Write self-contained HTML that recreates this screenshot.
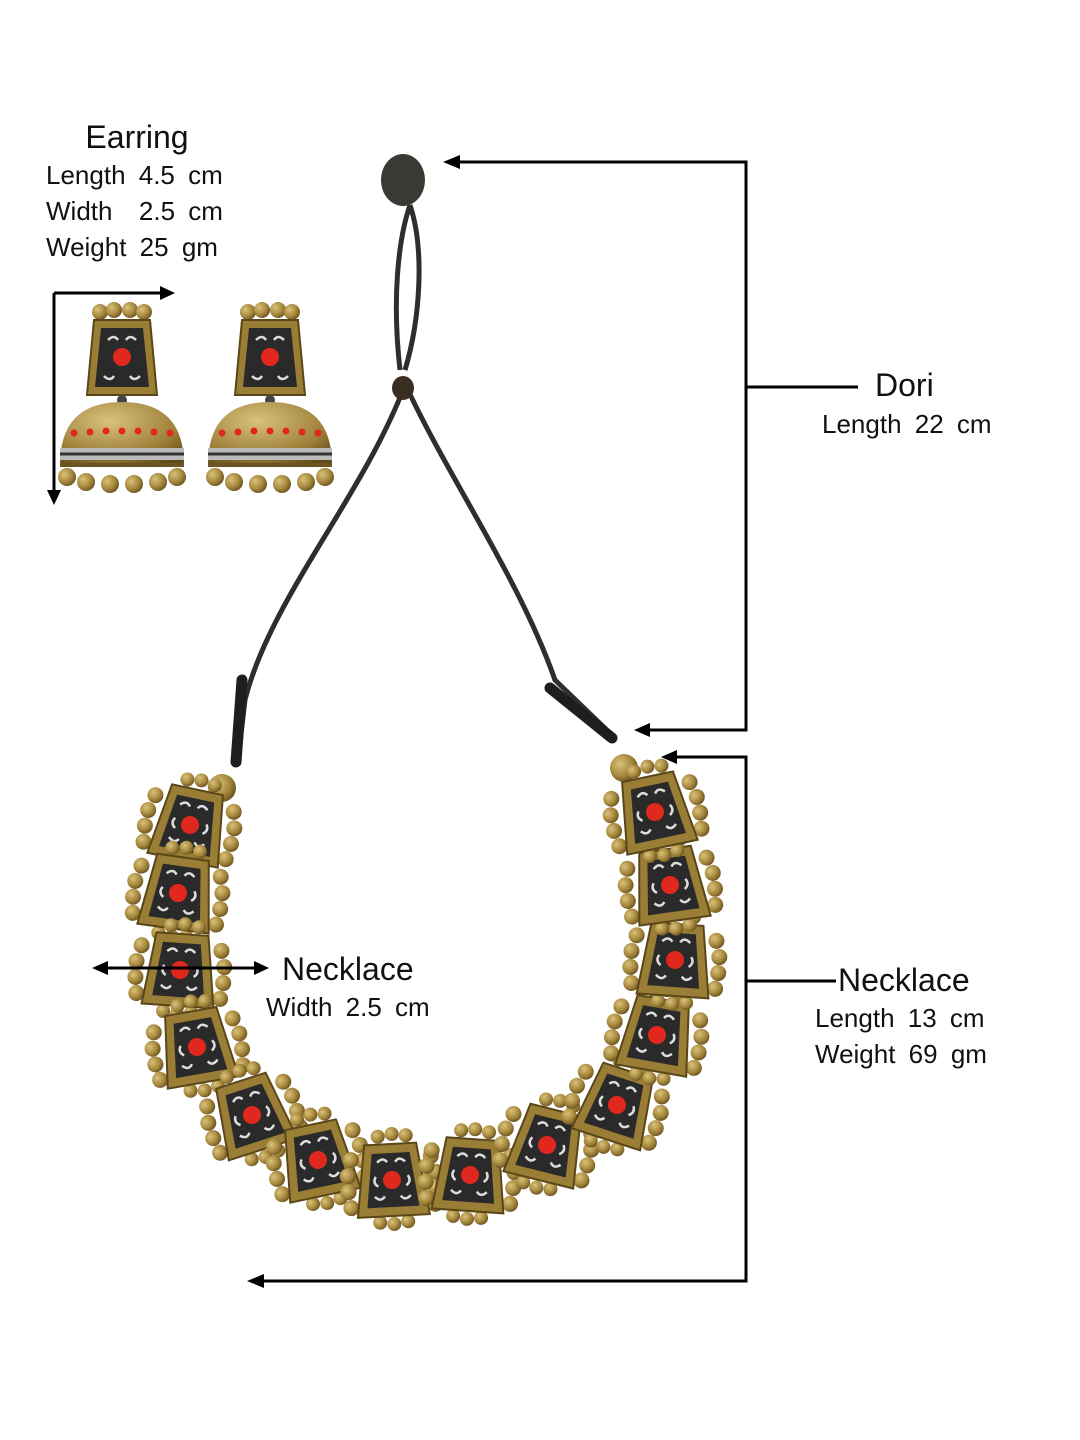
<!DOCTYPE html>
<html><head><meta charset="utf-8"><style>
html,body{margin:0;padding:0;background:#fff;}
svg{display:block;}
text{font-family:"Liberation Sans",sans-serif;fill:#111;}
.s{word-spacing:6px;}
</style></head><body>
<svg width="1080" height="1440" viewBox="0 0 1080 1440" xmlns="http://www.w3.org/2000/svg">
<defs>
<radialGradient id="gb" cx="0.35" cy="0.35" r="0.7"><stop offset="0" stop-color="#d8c27a"/><stop offset="0.6" stop-color="#a8893e"/><stop offset="1" stop-color="#6b5520"/></radialGradient>
<radialGradient id="dome" cx="0.4" cy="0.3" r="0.8"><stop offset="0" stop-color="#d9c27c"/><stop offset="0.7" stop-color="#9c7e36"/><stop offset="1" stop-color="#5f4a1a"/></radialGradient>
<g id="pend">
<circle cx="-40" cy="-22" r="8" fill="url(#gb)"/><circle cx="-44" cy="-6" r="8" fill="url(#gb)"/><circle cx="-44" cy="10" r="8" fill="url(#gb)"/><circle cx="-42" cy="26" r="8" fill="url(#gb)"/>
<circle cx="40" cy="-22" r="8" fill="url(#gb)"/><circle cx="44" cy="-6" r="8" fill="url(#gb)"/><circle cx="44" cy="10" r="8" fill="url(#gb)"/><circle cx="42" cy="26" r="8" fill="url(#gb)"/>
<circle cx="-12" cy="-44" r="7" fill="url(#gb)"/><circle cx="2" cy="-46" r="7" fill="url(#gb)"/><circle cx="16" cy="-44" r="7" fill="url(#gb)"/>
<circle cx="-14" cy="42" r="7" fill="url(#gb)"/><circle cx="0" cy="44" r="7" fill="url(#gb)"/><circle cx="14" cy="42" r="7" fill="url(#gb)"/>
<path d="M-26,-36 L26,-36 L36,36 L-36,36 Z" fill="#9a7e35" stroke="#5a4718" stroke-width="2"/>
<path d="M-19,-27 L19,-27 L26,27 L-26,27 Z" fill="#2a2a2a"/>
<path d="M-14,-18 q6,-6 10,0 M14,-18 q-6,-6 -10,0 M-18,16 q6,6 10,0 M18,16 q-6,6 -10,0 M-16,-4 q-4,6 2,10 M16,-4 q4,6 -2,10" stroke="#ddd" stroke-width="2.5" fill="none"/>
<circle cx="0" cy="0" r="9" fill="#e0281e"/>
</g>
<g id="ear">
<circle cx="-22" cy="-8" r="8" fill="url(#gb)"/><circle cx="-8" cy="-10" r="8" fill="url(#gb)"/><circle cx="8" cy="-10" r="8" fill="url(#gb)"/><circle cx="22" cy="-8" r="8" fill="url(#gb)"/>
<path d="M-28,0 L28,0 L35,75 L-35,75 Z" fill="#9a7e35" stroke="#5a4718" stroke-width="2"/>
<path d="M-21,8 L21,8 L27,67 L-27,67 Z" fill="#2a2a2a"/>
<path d="M-14,20 q6,-6 10,0 M14,20 q-6,-6 -10,0 M-18,56 q6,6 10,0 M18,56 q-6,6 -10,0" stroke="#ddd" stroke-width="2.5" fill="none"/>
<circle cx="0" cy="37" r="9" fill="#e0281e"/>
<circle cx="0" cy="80" r="5" fill="#444"/>
<path d="M-62,145 Q-62,82 0,82 Q62,82 62,145 Z" fill="url(#dome)"/>
<path d="M-62,128 L62,128 L62,140 L-62,140 Z" fill="#bbb"/>
<path d="M-62,134 L62,134" stroke="#333" stroke-width="3"/>
<g fill="#e0281e"><circle cx="-48" cy="113" r="3.5"/><circle cx="-32" cy="112" r="3.5"/><circle cx="-16" cy="111" r="3.5"/><circle cx="0" cy="111" r="3.5"/><circle cx="16" cy="111" r="3.5"/><circle cx="32" cy="112" r="3.5"/><circle cx="48" cy="113" r="3.5"/></g>
<path d="M-62,145 L62,145" stroke="#6b5520" stroke-width="4"/>
<g fill="url(#gb)"><circle cx="-55" cy="157" r="9"/><circle cx="-36" cy="162" r="9"/><circle cx="-12" cy="164" r="9"/><circle cx="12" cy="164" r="9"/><circle cx="36" cy="162" r="9"/><circle cx="55" cy="157" r="9"/></g>
</g>
</defs>

<path d="M410,205 C398,240 392,300 400,370 M410,205 C425,250 420,320 405,370" stroke="#2e2e2e" stroke-width="5" fill="none"/>
<path d="M403,390 C360,500 270,600 245,700 L238,760 M408,390 C450,480 520,580 555,680 L612,735" stroke="#2e2e2e" stroke-width="5" fill="none"/>
<path d="M242,680 L236,762" stroke="#1e1e1e" stroke-width="11" stroke-linecap="round"/>
<path d="M550,688 L612,738" stroke="#1e1e1e" stroke-width="11" stroke-linecap="round"/>
<ellipse cx="403" cy="180" rx="22" ry="26" fill="#3a3a34"/>
<ellipse cx="403" cy="388" rx="11" ry="12" fill="#3a2e22"/>
<circle cx="222" cy="788" r="14" fill="url(#gb)"/>
<circle cx="624" cy="768" r="14" fill="url(#gb)"/>

<use href="#pend" transform="translate(190,825) rotate(12)"/>
<use href="#pend" transform="translate(178,893) rotate(8)"/>
<use href="#pend" transform="translate(180,970) rotate(4)"/>
<use href="#pend" transform="translate(197,1047) rotate(-10)"/>
<use href="#pend" transform="translate(252,1115) rotate(-18)"/>
<use href="#pend" transform="translate(318,1160) rotate(-12)"/>
<use href="#pend" transform="translate(392,1180) rotate(-3)"/>
<use href="#pend" transform="translate(470,1175) rotate(4)"/>
<use href="#pend" transform="translate(547,1145) rotate(14)"/>
<use href="#pend" transform="translate(617,1105) rotate(18)"/>
<use href="#pend" transform="translate(657,1035) rotate(10)"/>
<use href="#pend" transform="translate(675,960) rotate(4)"/>
<use href="#pend" transform="translate(670,885) rotate(-8)"/>
<use href="#pend" transform="translate(655,812) rotate(-12)"/>

<use href="#ear" transform="translate(122,320)"/>
<use href="#ear" transform="translate(270,320)"/>

<g stroke="#000" stroke-width="3" fill="none">
<path d="M54,293 L54,493 M54,293 L162,293"/>
<path d="M458,162 L746,162 L746,730 L648,730 M746,387 L858,387"/>
<path d="M675,757 L746,757 L746,1281 L262,1281 M746,981 L836,981"/>
<path d="M106,968 L256,968"/>
</g>
<g fill="#000">
<path d="M47,490 L61,490 L54,505 Z"/>
<path d="M160,286 L160,300 L175,293 Z"/>
<path d="M460,155 L460,169 L443,162 Z"/>
<path d="M650,723 L650,737 L634,730 Z"/>
<path d="M677,750 L677,764 L661,757 Z"/>
<path d="M264,1274 L264,1288 L247,1281 Z"/>
<path d="M108,961 L108,975 L92,968 Z"/>
<path d="M254,961 L254,975 L269,968 Z"/>
</g>

<text x="137" y="148" font-size="32" text-anchor="middle">Earring</text>
<text class="s" x="46" y="184" font-size="26">Length 4.5 cm</text>
<text class="s" x="46" y="220" font-size="26" xml:space="preserve">Width  2.5 cm</text>
<text class="s" x="46" y="256" font-size="26">Weight 25 gm</text>
<text x="875" y="396" font-size="32">Dori</text>
<text class="s" x="822" y="433" font-size="26">Length 22 cm</text>
<text x="282" y="980" font-size="32">Necklace</text>
<text class="s" x="266" y="1016" font-size="26">Width 2.5 cm</text>
<text x="838" y="991" font-size="32">Necklace</text>
<text class="s" x="815" y="1027" font-size="26">Length 13 cm</text>
<text class="s" x="815" y="1063" font-size="26">Weight 69 gm</text>
</svg>
</body></html>
